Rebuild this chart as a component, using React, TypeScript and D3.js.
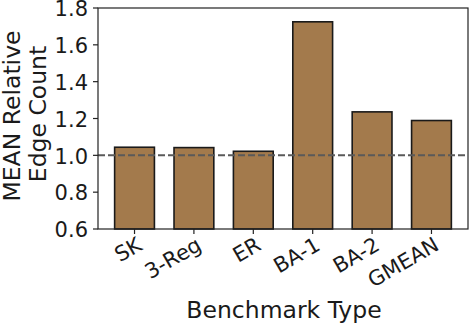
import React from "react";
import * as d3 from "d3";

const categories = ["SK", "3-Reg", "ER", "BA-1", "BA-2", "GMEAN"];
const values = [1.044, 1.042, 1.022, 1.725, 1.236, 1.189];
const yTicks = [0.6, 0.8, 1.0, 1.2, 1.4, 1.6, 1.8];
const refLine = 1.0;

const W = 469;
const H = 324;
const left = 98;
const right = 468;
const top = 8;
const bottom = 229;
const FONT = "'DejaVu Sans', sans-serif";
const TICK_FS = 21;
const LABEL_FS = 23.5;

export default function App() {
  const x = d3.scaleLinear().domain([-0.615, categories.length - 1 + 0.615]).range([left, right]);
  const y = d3.scaleLinear().domain([0.6, 1.8]).range([bottom, top]);
  const bw = x(0.67) - x(0);

  return (
    <svg width={W} height={H} style={{ position: "absolute", left: 0, top: 0 }} fontFamily={FONT}>
      <rect x={0} y={0} width={W} height={H} fill="#fff" />
      {categories.map((c, i) => (
        <rect
          key={c}
          x={x(i) - bw / 2}
          y={y(values[i])}
          width={bw}
          height={y(0.6) - y(values[i])}
          fill="#a37a4c"
          stroke="#1a1a1a"
          strokeWidth={1.6}
        />
      ))}
      <line x1={left} x2={right} y1={y(refLine)} y2={y(refLine)} stroke="#5a5a5a" strokeWidth={2} strokeDasharray="7,3" />
      <rect x={left} y={top} width={right - left} height={bottom - top} fill="none" stroke="#222" strokeWidth={1.2} />
      {yTicks.map((t) => (
        <g key={t}>
          <line x1={left - 5} x2={left} y1={y(t)} y2={y(t)} stroke="#222" strokeWidth={1.2} />
          <text x={left - 10} y={y(t) + 8.3} textAnchor="end" fontSize={TICK_FS} fill="#1a1a1a">
            {t.toFixed(1)}
          </text>
        </g>
      ))}
      {categories.map((c, i) => (
        <g key={c}>
          <line x1={x(i)} x2={x(i)} y1={bottom} y2={bottom + 5} stroke="#222" strokeWidth={1.2} />
          <text
            transform={`translate(${x(i) + 9},${249}) rotate(-30)`}
            textAnchor="end"
            fontSize={TICK_FS}
            fill="#1a1a1a"
          >
            {c}
          </text>
        </g>
      ))}
      <text x={(left + right) / 2 + 1} y={318.3} textAnchor="middle" fontSize={LABEL_FS} fill="#1a1a1a">
        Benchmark Type
      </text>
      <text transform={`translate(20,116) rotate(-90)`} textAnchor="middle" fontSize={LABEL_FS} fill="#1a1a1a">
        MEAN Relative
      </text>
      <text transform={`translate(46,114) rotate(-90)`} textAnchor="middle" fontSize={LABEL_FS} fill="#1a1a1a">
        Edge Count
      </text>
    </svg>
  );
}
